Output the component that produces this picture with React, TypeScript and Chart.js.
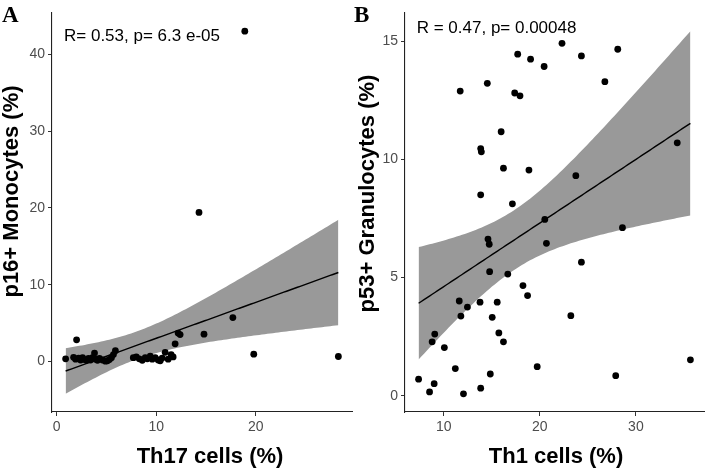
import React, { useEffect, useRef } from "react";
import { Chart, registerables } from "chart.js";

Chart.register(...registerables);

// Panel A: Th17 cells (%) against p16+ monocytes (%)
const th17Cells = [
  0.9, 1.7, 1.9, 2.0, 2.2, 2.4, 2.6, 2.8, 3.0, 3.2, 3.4, 3.6, 3.8, 3.9, 4.1, 4.3,
  4.6, 4.9, 5.1, 5.3, 5.5, 5.7, 5.9, 7.7, 8.0, 8.3, 8.6, 8.9, 9.1, 9.4, 9.6, 9.9,
  10.2, 10.4, 10.6, 10.9, 11.2, 11.5, 11.7, 11.9, 12.2, 12.4, 14.3, 14.8, 17.7,
  18.9, 19.8, 28.3,
];
const p16Monocytes = [
  0.35, 0.55, 0.3, 2.82, 0.45, 0.2, 0.5, 0.25, 0.15, 0.4, 0.2, 0.5, 1.1, 0.3, 0.15,
  0.4, 0.2, 0.05, 0.1, 0.25, 0.5, 0.9, 1.4, 0.5, 0.6, 0.35, 0.15, 0.5, 0.35, 0.7,
  0.3, 0.5, 0.2, 0.1, 0.45, 1.2, 0.3, 0.9, 0.6, 2.3, 3.7, 3.5, 19.4, 3.56, 5.72,
  43.0, 0.96, 0.65,
];

// Panel B: Th1 cells (%) against p53+ granulocytes (%)
const th1Cells = [
  11.72, 14.54, 17.7, 19.04, 20.45, 22.31, 24.33, 28.11, 26.77, 17.39, 17.94, 15.98,
  13.85, 13.92, 16.22, 18.87, 23.75, 34.3, 13.85, 17.15, 20.52, 28.6, 14.61, 14.74,
  20.69, 24.33, 14.78, 16.67, 18.25, 18.73, 11.62, 13.78, 15.57, 12.47, 11.79, 15.05,
  23.23, 15.74, 9.07, 8.8, 16.22, 10.07, 11.21, 19.73, 35.67, 7.39, 14.85, 27.9, 9.01,
  8.53, 12.06, 13.85,
];
const p53Granulocytes = [
  12.89, 13.22, 14.45, 14.24, 13.93, 14.91, 14.38, 14.66, 13.29, 12.81, 12.69, 11.17,
  10.46, 10.32, 9.63, 9.55, 9.31, 10.7, 8.5, 8.12, 7.46, 7.11, 6.63, 6.41, 6.45, 5.65,
  5.25, 5.15, 4.66, 4.24, 4.01, 3.96, 3.96, 3.75, 3.37, 3.32, 3.39, 2.66, 2.61, 2.28,
  2.28, 2.04, 1.15, 1.23, 1.52, 0.7, 0.92, 0.85, 0.51, 0.16, 0.08, 0.32,
];

const xTicksA = [0, 10, 20];
const yTicksA = [0, 10, 20, 30, 40];
const xTicksB = [10, 20, 30];
const yTicksB = [0, 5, 10, 15];

const statsA = "R= 0.53, p= 6.3 e-05";
const statsB = "R = 0.47, p= 0.00048";

type Pt = { x: number; y: number };

// Two-sided 95% Student t quantile (Cornish-Fisher expansion around the normal)
function tQuantile975(df: number): number {
  const z = 1.959964;
  const z3 = z ** 3, z5 = z ** 5, z7 = z ** 7;
  return (
    z +
    (z3 + z) / (4 * df) +
    (5 * z5 + 16 * z3 + 3 * z) / (96 * df * df) +
    (3 * z7 + 19 * z5 + 17 * z3 - 15 * z) / (384 * df ** 3)
  );
}

// Least-squares line with its 95% confidence band
function linearFit(xs: number[], ys: number[], steps = 100) {
  const n = xs.length;
  const mx = xs.reduce((a, b) => a + b, 0) / n;
  const my = ys.reduce((a, b) => a + b, 0) / n;
  let sxx = 0, sxy = 0;
  for (let i = 0; i < n; i++) {
    sxx += (xs[i] - mx) ** 2;
    sxy += (xs[i] - mx) * (ys[i] - my);
  }
  const slope = sxy / sxx;
  const intercept = my - slope * mx;
  let sse = 0;
  for (let i = 0; i < n; i++) sse += (ys[i] - intercept - slope * xs[i]) ** 2;
  const s = Math.sqrt(sse / (n - 2));
  const t = tQuantile975(n - 2);
  const lo = Math.min(...xs), hi = Math.max(...xs);
  const line: Pt[] = [], upper: Pt[] = [], lower: Pt[] = [];
  for (let k = 0; k <= steps; k++) {
    const x = lo + ((hi - lo) * k) / steps;
    const f = intercept + slope * x;
    const half = t * s * Math.sqrt(1 / n + (x - mx) ** 2 / sxx);
    line.push({ x, y: f });
    upper.push({ x, y: f + half });
    lower.push({ x, y: f - half });
  }
  return { line, upper, lower };
}

// Axis limits padded by 5% of the data range on each side
function padded(values: number[]): [number, number] {
  const lo = Math.min(...values), hi = Math.max(...values);
  const d = (hi - lo) * 0.05;
  return [lo - d, hi + d];
}

type PanelProps = {
  xs: number[];
  ys: number[];
  xTicks: number[];
  yTicks: number[];
  letter: string;
  stats: string;
  xTitle: string;
  yTitle: string;
  left: number;
  width: number;
  axisWidth: number;
  padRight: number;
  statsPos: [number, number];
  xTitlePos: [number, number];
  yTitlePos: [number, number];
};

function Panel(p: PanelProps) {
  const ref = useRef<HTMLCanvasElement | null>(null);

  useEffect(() => {
    if (!ref.current) return;
    const fit = linearFit(p.xs, p.ys);
    const pts: Pt[] = p.xs.map((x, i) => ({ x, y: p.ys[i] }));
    const [xMin, xMax] = padded(p.xs);
    const [yMin, yMax] = padded([
      ...p.ys,
      ...fit.upper.map((d) => d.y),
      ...fit.lower.map((d) => d.y),
    ]);

    const labels = {
      id: "panelLabels",
      afterDraw(chart: Chart) {
        const ctx = chart.ctx;
        ctx.save();
        ctx.fillStyle = "#000";
        ctx.textBaseline = "alphabetic";

        ctx.font = "bold 23px 'Liberation Serif'";
        ctx.textAlign = "left";
        ctx.fillText(p.letter, 2, 22);

        ctx.font = "17px 'Liberation Sans'";
        ctx.fillText(p.stats, p.statsPos[0], p.statsPos[1]);

        ctx.font = "bold 22px 'Liberation Sans'";
        ctx.textAlign = "center";
        ctx.fillText(p.xTitle, p.xTitlePos[0], p.xTitlePos[1]);

        ctx.translate(p.yTitlePos[0], p.yTitlePos[1]);
        ctx.rotate(-Math.PI / 2);
        ctx.fillText(p.yTitle, 0, 0);
        ctx.restore();
      },
    };

    const tickFont = { family: "'Liberation Sans'", size: 14 };
    const axisCommon = {
      type: "linear" as const,
      grid: {
        drawOnChartArea: false,
        drawTicks: true,
        tickLength: 4,
        tickColor: "#333333",
        tickWidth: 1,
      },
      border: { display: true, color: "#222222", width: 1.1 },
      ticks: {
        font: tickFont,
        color: "#4D4D4D",
        padding: 3,
        autoSkip: false,
        maxRotation: 0,
      },
    };

    const chart = new Chart(ref.current, {
      type: "line",
      data: {
        datasets: [
          {
            data: pts,
            showLine: false,
            pointRadius: 3.4,
            pointBackgroundColor: "#000000",
            pointBorderWidth: 0,
            order: 0,
          },
          {
            data: fit.line,
            borderColor: "#000000",
            borderWidth: 1.4,
            pointRadius: 0,
            fill: false,
            order: 1,
          },
          {
            data: fit.upper,
            borderWidth: 0,
            borderColor: "rgba(0,0,0,0)",
            pointRadius: 0,
            backgroundColor: "#999999",
            fill: "+1",
            order: 2,
          },
          {
            data: fit.lower,
            borderWidth: 0,
            borderColor: "rgba(0,0,0,0)",
            pointRadius: 0,
            fill: false,
            order: 3,
          },
        ],
      },
      options: {
        animation: false,
        responsive: false,
        devicePixelRatio: 1,
        layout: { padding: { top: 13, right: p.padRight, left: 0, bottom: 0 } },
        plugins: { legend: { display: false }, tooltip: { enabled: false } },
        scales: {
          x: {
            ...axisCommon,
            min: xMin,
            max: xMax,
            afterBuildTicks: (s: any) => {
              s.ticks = p.xTicks.map((v) => ({ value: v }));
            },
            afterFit: (s: any) => {
              s.height = 58;
            },
          },
          y: {
            ...axisCommon,
            min: yMin,
            max: yMax,
            afterBuildTicks: (s: any) => {
              s.ticks = p.yTicks.map((v) => ({ value: v }));
            },
            afterFit: (s: any) => {
              s.width = p.axisWidth;
            },
          },
        },
      } as any,
      plugins: [labels],
    });
    return () => chart.destroy();
  }, []);

  return (
    <canvas
      ref={ref}
      width={p.width}
      height={470}
      style={{ position: "absolute", left: p.left, top: 0, width: p.width, height: 470 }}
    />
  );
}

export default function App() {
  return (
    <div
      style={{
        position: "fixed",
        left: 0,
        top: 0,
        width: 708,
        height: 470,
        background: "#ffffff",
        overflow: "hidden",
      }}
    >
      <Panel
        xs={th17Cells}
        ys={p16Monocytes}
        xTicks={xTicksA}
        yTicks={yTicksA}
        letter="A"
        stats={statsA}
        xTitle="Th17 cells (%)"
        yTitle="p16+ Monocytes (%)"
        left={0}
        width={356}
        axisWidth={52}
        padRight={2}
        statsPos={[64, 41]}
        xTitlePos={[210, 462.5]}
        yTitlePos={[18, 191.5]}
      />
      <Panel
        xs={th1Cells}
        ys={p53Granulocytes}
        xTicks={xTicksB}
        yTicks={yTicksB}
        letter="B"
        stats={statsB}
        xTitle="Th1 cells (%)"
        yTitle="p53+ Granulocytes (%)"
        left={352}
        width={356}
        axisWidth={53}
        padRight={1.3}
        statsPos={[64.7, 32.5]}
        xTitlePos={[204, 462.5]}
        yTitlePos={[22, 193.5]}
      />
    </div>
  );
}
